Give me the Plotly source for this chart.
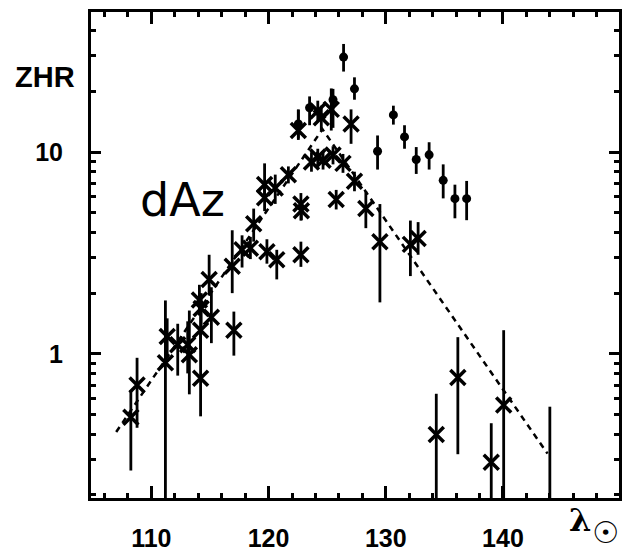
import plotly.graph_objects as go

# ---- data: crosses (x = solar longitude, y = ZHR, error bar low/high) ----
cross_x = [108.25, 108.78, 111.2, 111.35, 112.25, 113.1, 113.24, 114.2, 114.2, 114.1, 114.25,
           114.93, 115.12, 116.9, 117.04, 117.74, 118.45, 118.73, 119.86, 120.7, 122.76,
           119.66, 119.66, 120.57, 121.69, 122.76, 122.8, 122.54, 124.2, 124.5, 125.35,
           127.04, 123.66, 124.2, 124.65, 125.5, 126.35, 127.33, 125.77, 128.3, 129.5,
           132.1, 132.76, 134.31, 136.15, 139.0, 140.06, 144.0]
cross_y = [0.485, 0.70, 0.904, 1.22, 1.11, 1.11, 0.99, 0.756, 1.31, 1.85, 1.68,
           2.34, 1.52, 2.72, 1.31, 3.28, 3.34, 4.42, 3.21, 2.93, 3.10,
           6.91, 5.95, 6.65, 7.72, 5.53, 5.12, 12.8, 16.0, 14.8, 16.3,
           13.8, 8.95, 9.47, 9.12, 9.68, 8.8, 7.18, 5.83, 5.25, 3.6,
           3.49, 3.73, 0.398, 0.764, 0.29, 0.557, 0.12]
cross_lo = [0.264, 0.43, 0.15, 0.95, 0.78, 0.80, 0.63, 0.49, 1.05, 1.55, 1.30,
            1.95, 1.13, 2.0, 0.98, 2.68, 2.95, 3.6, 2.8, 2.34, 2.7,
            6.0, 5.1, 5.54, 7.0, 4.58, 4.6, 11.5, 14.2, 12.8, 12.8,
            11.0, 8.0, 8.6, 8.2, 8.7, 7.9, 6.4, 5.2, 4.2, 1.8,
            2.43, 3.1, 0.15, 0.318, 0.15, 0.15, 0.10]
cross_hi = [0.66, 0.956, 1.84, 1.5, 1.41, 1.45, 1.64, 1.31, 1.6, 2.2, 2.0,
            3.1, 2.14, 4.1, 1.62, 3.87, 3.8, 5.25, 3.7, 3.28, 3.6,
            8.8, 6.8, 7.74, 8.5, 6.27, 5.7, 16.2, 18.0, 17.0, 20.7,
            16.3, 10.0, 10.4, 10.1, 10.7, 9.8, 8.0, 6.5, 6.4, 5.53,
            4.58, 4.5, 0.634, 1.21, 0.453, 1.31, 0.547]

# ---- data: filled dots ----
dot_x = [122.54, 123.5, 125.5, 126.4, 127.33, 129.3, 130.65, 131.6, 132.6, 133.7, 134.9, 135.9, 136.9]
dot_y = [13.8, 16.6, 18.2, 29.6, 20.6, 10.1, 15.3, 11.9, 9.2, 9.7, 7.25, 5.88, 5.88]
dot_lo = [11.7, 13.6, 13.2, 25.1, 18.2, 8.2, 13.7, 10.4, 7.8, 8.2, 5.9, 4.7, 4.6]
dot_hi = [16.3, 18.9, 20.6, 34.4, 23.5, 12.1, 17.0, 13.6, 10.6, 11.2, 8.7, 6.9, 7.2]

# ---- data: dashed model line ----
fit_x = [107.0, 124.6, 143.8]
fit_y = [0.41, 13.0, 0.32]

# ---- axis ticks ----
x_ticks = [110, 120, 130, 140]
y_ticks = [1, 10]
y_tick_text = ["1", "10"]
y_minor = [0.2, 0.3, 0.4, 0.5, 0.6, 0.7, 0.8, 0.9, 2, 3, 4, 5, 6, 7, 8, 9, 20, 30, 40]

fig = go.Figure()

fig.add_trace(go.Scatter(
    x=fit_x, y=fit_y, mode="lines",
    line=dict(color="black", width=2.5, dash="6px,5px"),
    hoverinfo="skip", showlegend=False))

fig.add_trace(go.Scatter(
    x=cross_x, y=cross_y, mode="markers",
    marker=dict(symbol="x-thin", size=15, color="black",
                line=dict(color="black", width=3.5)),
    error_y=dict(type="data", symmetric=False,
                 array=[h - y for h, y in zip(cross_hi, cross_y)],
                 arrayminus=[y - l for l, y in zip(cross_lo, cross_y)],
                 color="black", thickness=2.8, width=0),
    showlegend=False))

fig.add_trace(go.Scatter(
    x=dot_x, y=dot_y, mode="markers",
    marker=dict(symbol="circle", size=9, color="black"),
    error_y=dict(type="data", symmetric=False,
                 array=[h - y for h, y in zip(dot_hi, dot_y)],
                 arrayminus=[y - l for l, y in zip(dot_lo, dot_y)],
                 color="black", thickness=2.8, width=0),
    showlegend=False))

tickfont = dict(family="Liberation Sans", size=25, color="black", weight="bold")

fig.update_layout(
    width=627, height=557,
    margin=dict(l=91, r=5, t=12, b=49),
    paper_bgcolor="white", plot_bgcolor="white",
    xaxis=dict(range=[104.85, 149.9], tickvals=x_ticks, ticks="inside", ticklen=12,
               tickwidth=2.5, tickcolor="black", showline=True, linecolor="black",
               linewidth=3, mirror="allticks", showgrid=False, zeroline=False,
               tickfont=tickfont, ticklabelstandoff=16,
               minor=dict(ticks="inside", ticklen=5, tickwidth=2.5, tickcolor="black",
                          dtick=2, tick0=0, showgrid=False)),
    yaxis=dict(type="log", range=[-0.7147, 1.695], tickvals=y_ticks, ticktext=y_tick_text,
               ticks="inside", ticklen=10, tickwidth=2.5, tickcolor="black",
               showline=True, linecolor="black", linewidth=3, mirror="allticks",
               showgrid=False, zeroline=False, tickfont=tickfont, ticklabelstandoff=20,
               minor=dict(ticks="inside", ticklen=5, tickwidth=2.5, tickcolor="black",
                          tickvals=y_minor, showgrid=False)),
    annotations=[
        dict(text="ZHR", xref="paper", yref="paper", x=-0.087, y=0.866,
             showarrow=False, xanchor="center", yanchor="middle",
             font=dict(family="Liberation Sans", size=29, color="black", weight="bold")),
        dict(text="dAz", xref="paper", yref="paper", x=0.173, y=0.613,
             showarrow=False, xanchor="center", yanchor="middle",
             font=dict(family="DejaVu Sans", size=46, color="black")),
        dict(text="λ", xref="paper", yref="paper", x=0.927, y=-0.046,
             showarrow=False, xanchor="center", yanchor="middle",
             font=dict(family="DejaVu Serif", size=32, color="black", weight="bold")),
        dict(text="☉", xref="paper", yref="paper", x=0.975, y=-0.072,
             showarrow=False, xanchor="center", yanchor="middle",
             font=dict(family="DejaVu Sans", size=30, color="black", weight="bold")),
    ],
)

fig.write_html("out.html")
